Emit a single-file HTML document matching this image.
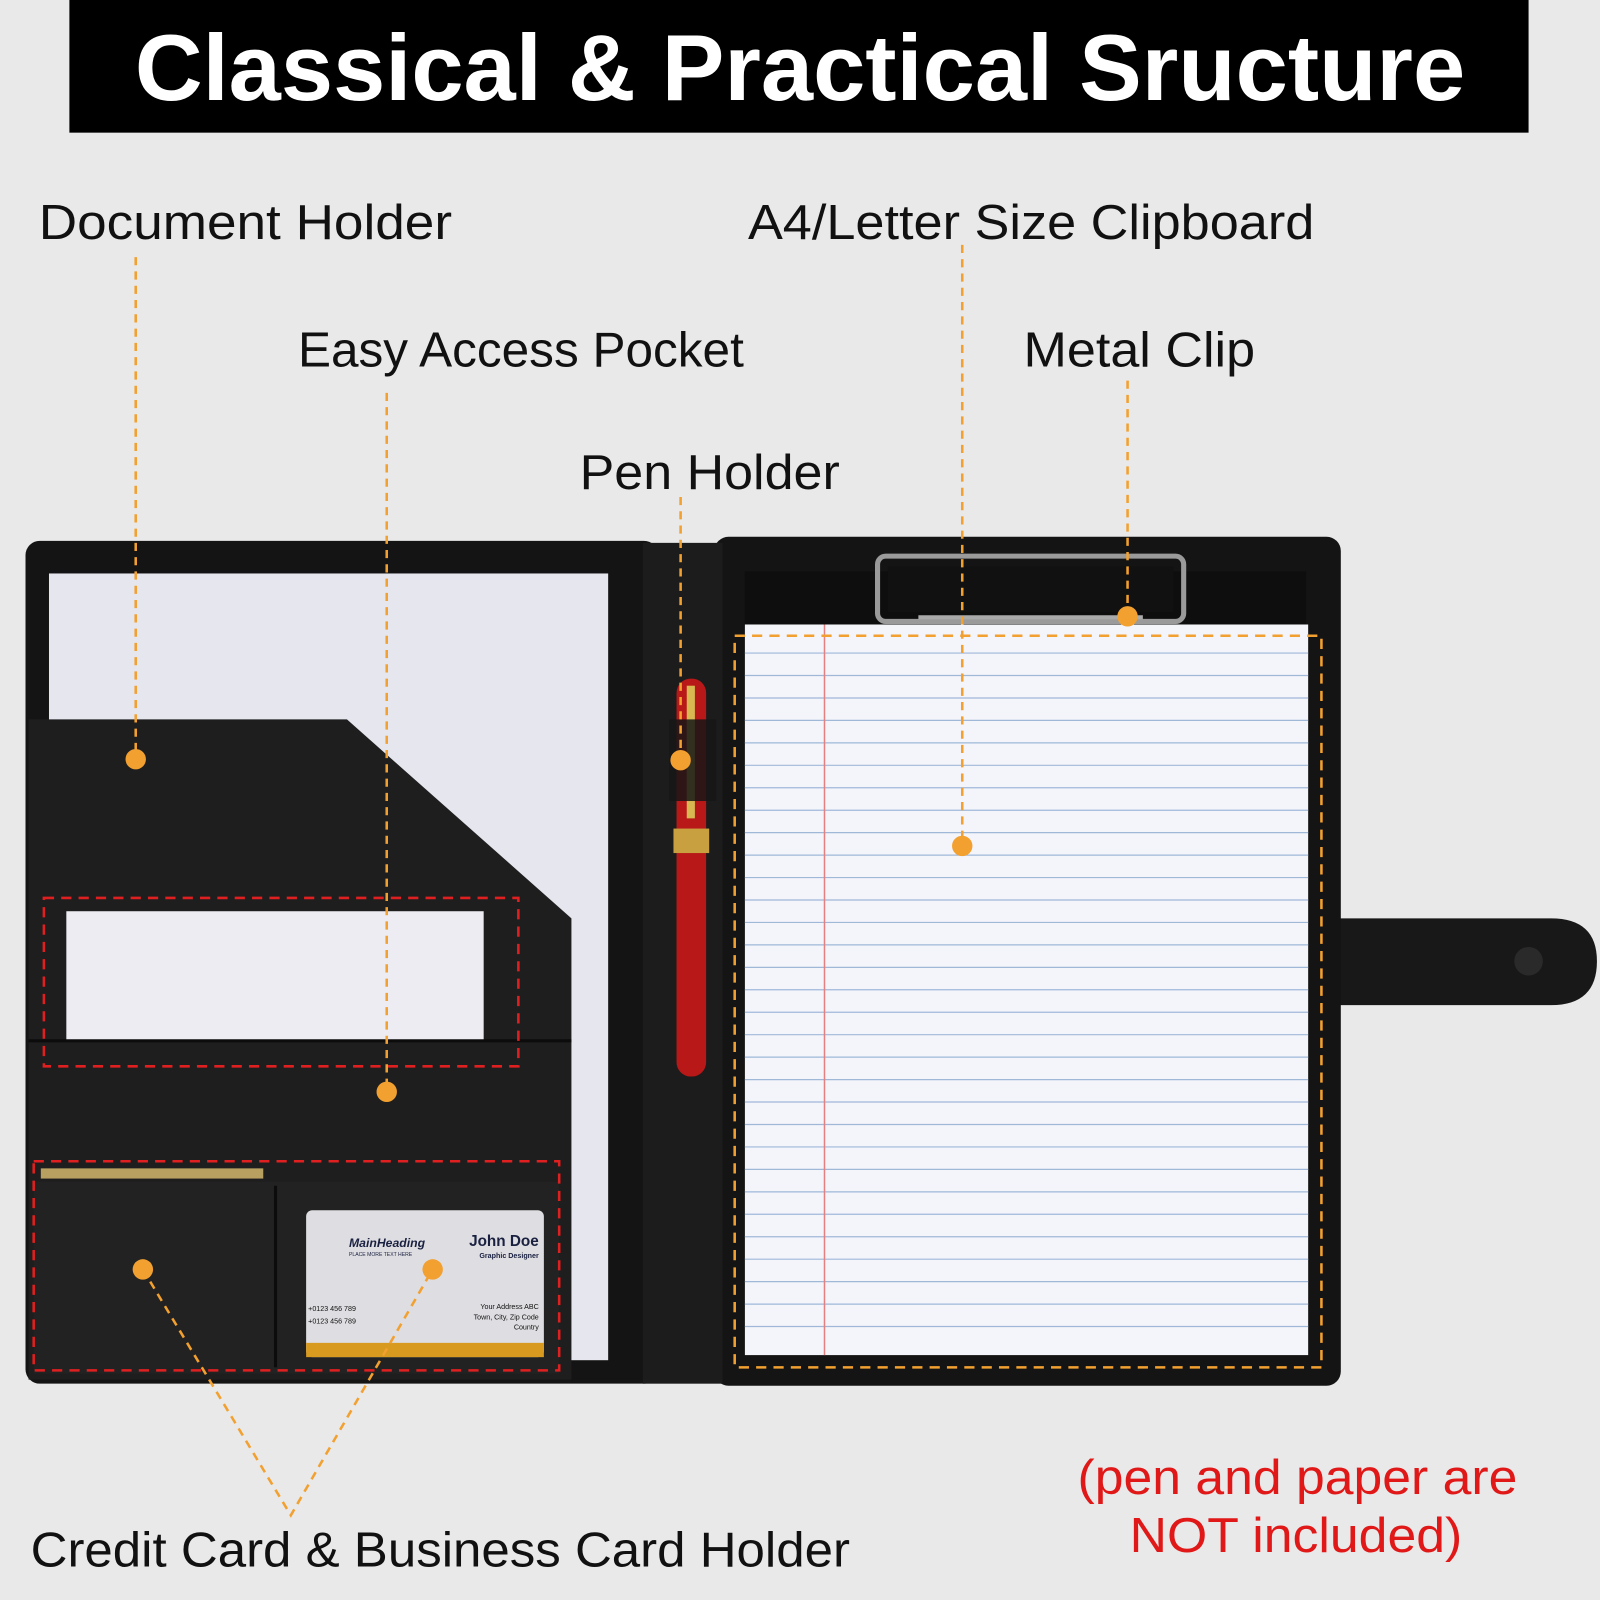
<!DOCTYPE html>
<html><head><meta charset="utf-8"><style>html,body{margin:0;padding:0;background:#e9e9e9}svg{display:block}</style></head><body>
<svg width="1600" height="1600" viewBox="0 0 1568 1568" xmlns="http://www.w3.org/2000/svg" font-family="Liberation Sans, DejaVu Sans, sans-serif">
<rect width="1568" height="1568" fill="#e9e9e9"/>
<rect x="68" y="0" width="1430" height="130" fill="#000"/>
<text x="784" y="98" text-anchor="middle" font-size="92" font-weight="bold" fill="#fff">Classical &amp; Practical Sructure</text>
<g font-size="48" fill="#111" lengthAdjust="spacingAndGlyphs">
<text x="38" y="234" textLength="405" lengthAdjust="spacingAndGlyphs">Document Holder</text>
<text x="733" y="234" textLength="555" lengthAdjust="spacingAndGlyphs">A4/Letter Size Clipboard</text>
<text x="292" y="359" textLength="437" lengthAdjust="spacingAndGlyphs">Easy Access Pocket</text>
<text x="1003" y="359" textLength="227" lengthAdjust="spacingAndGlyphs">Metal Clip</text>
<text x="568" y="479" textLength="255" lengthAdjust="spacingAndGlyphs">Pen Holder</text>
<text x="30" y="1535" textLength="803" lengthAdjust="spacingAndGlyphs">Credit Card &amp; Business Card Holder</text>
</g>
<g font-size="48" fill="#e01818">
<text x="1056" y="1464" textLength="431" lengthAdjust="spacingAndGlyphs">(pen and paper are</text>
<text x="1107" y="1521" textLength="326" lengthAdjust="spacingAndGlyphs">NOT included)</text>
</g>
<!-- strap -->
<path d="M1300 900 H1520 Q1565 900 1565 942 Q1565 985 1520 985 H1300 Z" fill="#181818"/>
<circle cx="1498" cy="942" r="14" fill="#2a2a2a"/>
<!-- panels -->
<rect x="25" y="530" width="620" height="826" rx="14" fill="#141414"/>
<rect x="700" y="526" width="614" height="832" rx="14" fill="#141414"/>
<rect x="630" y="532" width="78" height="824" fill="#1c1c1c"/>
<rect x="48" y="562" width="548" height="771" fill="#e6e6ee"/>
<path d="M28 705 H340 L560 900 V1352 H28 Z" fill="#1e1e1e"/>
<rect x="65" y="893" width="409" height="127" fill="#ececf2"/>
<path d="M28 1020 H560" stroke="#0c0c0c" stroke-width="3"/>
<rect x="40" y="1145" width="218" height="10" fill="#b8a060"/>
<rect x="33" y="1158" width="515" height="188" fill="#222"/>
<path d="M270 1162 V1340" stroke="#0c0c0c" stroke-width="3"/>
<!-- business card -->
<rect x="300" y="1186" width="233" height="144" rx="6" fill="#dedee2"/>
<rect x="300" y="1316" width="233" height="14" fill="#d99a20"/>
<text x="342" y="1222" font-size="12" font-style="italic" font-weight="bold" fill="#1a2040">MainHeading</text>
<text x="342" y="1231" font-size="5" fill="#1a2040">PLACE MORE TEXT HERE</text>
<text x="528" y="1221" font-size="15" font-weight="bold" text-anchor="end" fill="#1a2040">John Doe</text>
<text x="528" y="1233" font-size="7" font-weight="bold" text-anchor="end" fill="#1a2040">Graphic Designer</text>
<text x="302" y="1285" font-size="7" fill="#111">+0123 456 789</text>
<text x="302" y="1297" font-size="7" fill="#111">+0123 456 789</text>
<text x="528" y="1283" font-size="7" text-anchor="end" fill="#111">Your Address ABC</text>
<text x="528" y="1293" font-size="7" text-anchor="end" fill="#111">Town, City, Zip Code</text>
<text x="528" y="1303" font-size="7" text-anchor="end" fill="#111">Country</text>
<!-- clipboard -->
<rect x="730" y="560" width="550" height="55" fill="#0e0e0e"/>
<rect x="730" y="612" width="552" height="716" fill="#f4f5fb"/>
<g stroke="#9fb8d8" stroke-width="1.2">
<path d="M730 640H1282M730 662H1282M730 684H1282M730 706H1282M730 728H1282M730 750H1282M730 772H1282M730 794H1282M730 816H1282M730 838H1282M730 860H1282M730 882H1282M730 904H1282M730 926H1282M730 948H1282M730 970H1282M730 992H1282M730 1014H1282M730 1036H1282M730 1058H1282M730 1080H1282M730 1102H1282M730 1124H1282M730 1146H1282M730 1168H1282M730 1190H1282M730 1212H1282M730 1234H1282M730 1256H1282M730 1278H1282M730 1300H1282"/>
</g>
<path d="M808 612V1328" stroke="#e48080" stroke-width="1.5"/>
<rect x="860" y="545" width="300" height="64" rx="8" fill="none" stroke="#9a9a9a" stroke-width="5"/>
<rect x="870" y="555" width="280" height="45" fill="#111"/>
<path d="M900 605H1120" stroke="#aaa" stroke-width="4"/>
<!-- pen -->
<rect x="663" y="665" width="29" height="390" rx="14" fill="#b81818"/>
<rect x="660" y="812" width="35" height="24" fill="#c8a040"/>
<rect x="673" y="672" width="8" height="130" fill="#d8b850"/>
<rect x="656" y="705" width="46" height="80" fill="#161616" opacity=".85"/>
<!-- dashed rects -->
<g fill="none" stroke-width="2.5" stroke-dasharray="10 7">
<rect x="720" y="623" width="575" height="717" stroke="#f2a030"/>
<rect x="43" y="880" width="465" height="165" stroke="#e02020"/>
<rect x="33" y="1138" width="515" height="205" stroke="#e02020"/>
</g>
<g stroke="#f2a030" stroke-width="2.5" stroke-dasharray="8 6" fill="none">
<path d="M133 252V744M379 385V1070M667 487V745M943 240V829M1105 373V604M140 1244L285 1485L424 1244"/>
</g>
<g fill="#f2a030">
<circle cx="133" cy="744" r="10"/><circle cx="379" cy="1070" r="10"/><circle cx="667" cy="745" r="10"/>
<circle cx="943" cy="829" r="10"/><circle cx="1105" cy="604" r="10"/><circle cx="140" cy="1244" r="10"/><circle cx="424" cy="1244" r="10"/>
</g>
</svg>
</body></html>
